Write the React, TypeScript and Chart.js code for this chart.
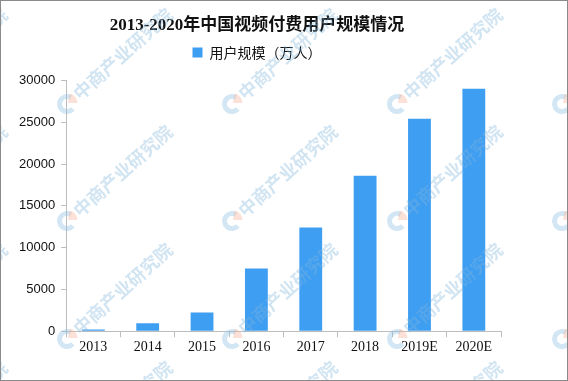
import React, { useEffect, useRef } from "react";
import { Chart, registerables } from "chart.js";

Chart.register(...registerables);

const categories = ["2013", "2014", "2015", "2016", "2017", "2018", "2019E", "2020E"];
const users = [190, 950, 2250, 7500, 12400, 18600, 25400, 29000];
const yTicks = [0, 5000, 10000, 15000, 20000, 25000, 30000];
const titleText = "2013-2020年中国视频付费用户规模情况";
const seriesName = "用户规模（万人）";
const watermarkText = "中商产业研究院";

const FONT = "'Liberation Serif', 'Noto Sans CJK SC', serif";

const watermarkPlugin = {
  id: "watermark",
  afterDraw(chart: any) {
    const ctx = chart.ctx as CanvasRenderingContext2D;
    ctx.save();
    const colX = [-99, 66, 231, 396, 561];
    const rowY = [-14, 103, 220, 338, 456];
    for (const y of rowY) {
      for (const x of colX) {
        ctx.save();
        ctx.translate(x, y);
        ctx.globalAlpha = 0.4;
        ctx.strokeStyle = "#8fc0e4";
        ctx.lineWidth = 5;
        ctx.beginPath();
        ctx.arc(0, 0, 7.5, (40 * Math.PI) / 180, (300 * Math.PI) / 180);
        ctx.stroke();
        ctx.fillStyle = "#f5b49a";
        ctx.beginPath();
        ctx.moveTo(1, -1);
        ctx.arc(1, -1, 9.5, (-80 * Math.PI) / 180, 0);
        ctx.closePath();
        ctx.fill();
        ctx.restore();
        ctx.save();
        ctx.translate(x + 9, y - 8);
        ctx.rotate((-42 * Math.PI) / 180);
        ctx.globalAlpha = 0.36;
        ctx.fillStyle = "#7fb3dc";
        ctx.font = "bold 18px 'Noto Sans CJK SC', sans-serif";
        ctx.textBaseline = "middle";
        ctx.textAlign = "left";
        ctx.fillText(watermarkText, 0, 0);
        ctx.restore();
      }
    }
    ctx.restore();
  },
};

export default function App() {
  const ref = useRef<HTMLCanvasElement | null>(null);
  useEffect(() => {
    document.body.style.margin = "0";
    const canvas = ref.current!;
    const chart = new Chart(canvas, {
      type: "bar",
      data: {
        labels: categories,
        datasets: [
          {
            label: seriesName,
            data: users,
            backgroundColor: "#3e9ef2",
            barPercentage: 0.42,
            categoryPercentage: 1,
          },
        ],
      },
      options: {
        animation: false,
        responsive: false,
        layout: { padding: { left: 12, right: 66, top: 8, bottom: 22 } },
        plugins: {
          title: {
            display: true,
            text: titleText,
            color: "#111",
            font: { family: FONT, size: 17, weight: "bold", lineHeight: 1.2 },
            padding: { top: 6, bottom: -7 },
          },
          legend: {
            display: true,
            labels: {
              color: "#111",
              font: { family: "'Noto Sans CJK SC', sans-serif", size: 14 },
              boxWidth: 10,
              boxHeight: 10,
              padding: 17,
            },
          },
          tooltip: { enabled: false },
        },
        scales: {
          x: {
            grid: {
              display: true,
              drawOnChartArea: false,
              drawTicks: true,
              tickLength: 6,
              color: "#bdbdbd",
              offset: true,
            },
            border: { display: true, color: "#bdbdbd" },
            ticks: { color: "#111", font: { family: FONT, size: 14 }, padding: 2 },
          },
          xTopSpacer: {
            type: "category",
            position: "top",
            display: true,
            grid: { display: false, drawTicks: false },
            border: { display: false },
            ticks: { display: false },
            afterFit: (s: any) => {
              s.height = 11;
            },
          },
          y: {
            min: 0,
            max: 30000,
            afterBuildTicks: (axis: any) => {
              axis.ticks = yTicks.map((v) => ({ value: v }));
            },
            grid: {
              display: true,
              drawOnChartArea: false,
              drawTicks: true,
              tickLength: 5,
              color: "#bdbdbd",
            },
            border: { display: true, color: "#bdbdbd" },
            ticks: {
              color: "#111",
              font: { family: "'Liberation Sans', Arial, sans-serif", size: 13 },
              padding: 6,
              callback: (v: any) => String(v),
            },
          },
        },
      },
      plugins: [watermarkPlugin],
    });
    return () => chart.destroy();
  }, []);
  return (
    <div
      style={{
        width: 568,
        height: 381,
        boxSizing: "border-box",
        border: "1px solid #8a8a8a",
        background: "#fff",
        position: "relative",
      }}
    >
      <canvas ref={ref} width={566} height={379} />
    </div>
  );
}
